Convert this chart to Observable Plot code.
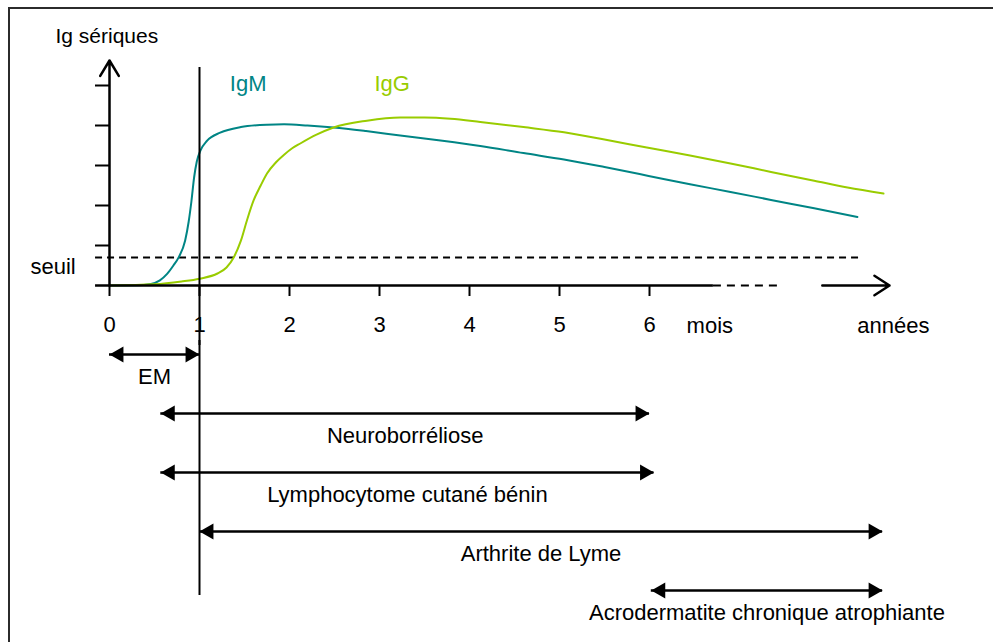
<!DOCTYPE html>
<html>
<head>
<meta charset="utf-8">
<script src="https://cdn.jsdelivr.net/npm/d3@7"></script>
<script src="https://cdn.jsdelivr.net/npm/@observablehq/plot@0.6"></script>
<style>
  html, body { margin: 0; padding: 0; background: #fff; }
  #wrap { position: relative; width: 993px; height: 642px; overflow: hidden; background: #fff; }
  #wrap svg { display: block; }
  #frame { position: absolute; left: 8px; top: 7px; width: 1100px; height: 800px;
           border-left: 2px solid #2b2b2b; border-top: 2px solid #2b2b2b; pointer-events: none; }
</style>
</head>
<body>
<div id="wrap"><div id="frame"></div></div>
<script>
// ---------- data ----------
const xTicks = [0, 1, 2, 3, 4, 5, 6];          // mois
const yTicks = [1, 2, 3, 4, 5];
const seuil = 0.7;                              // seuil de positivité

const igmX = [0, 0.3, 0.46, 0.56, 0.64, 0.71, 0.77, 0.84, 0.88, 0.91, 0.94, 0.97, 1.01, 1.085, 1.23, 1.46, 1.75, 1.94, 2.2, 2.49, 2.85, 3.23, 3.7, 4.12, 4.6, 5.05, 5.5, 5.99, 6.45, 6.9, 7.35, 7.83, 8.31];
const igmY = [0, 0.005, 0.04, 0.13, 0.29, 0.5, 0.71, 1.12, 1.6, 2.1, 2.7, 3.1, 3.37, 3.62, 3.82, 3.96, 4.02, 4.03, 4.0, 3.95, 3.86, 3.75, 3.62, 3.49, 3.31, 3.15, 2.96, 2.74, 2.53, 2.34, 2.14, 1.93, 1.71];

const iggX = [0, 0.5, 0.8, 1.0, 1.2, 1.3, 1.38, 1.46, 1.53, 1.6, 1.68, 1.75, 1.85, 1.94, 2.03, 2.12, 2.3, 2.49, 2.86, 3.23, 3.5, 3.79, 4.12, 4.6, 5.05, 5.5, 5.97, 6.45, 6.9, 7.35, 7.83, 8.2, 8.6];
const iggY = [0, 0.03, 0.1, 0.17, 0.3, 0.45, 0.7, 1.12, 1.65, 2.12, 2.5, 2.8, 3.08, 3.27, 3.43, 3.55, 3.77, 3.95, 4.12, 4.2, 4.2, 4.17, 4.09, 3.96, 3.83, 3.65, 3.45, 3.25, 3.05, 2.84, 2.62, 2.45, 2.3];

const rangeNames = ["EM", "Neuroborréliose", "Lymphocytome cutané bénin", "Arthrite de Lyme", "Acrodermatite chronique atrophiante"];
const rangeStart = [0, 0.57, 0.57, 1.0, 6.02];
const rangeEnd   = [1.0, 6.0, 6.05, 8.59, 8.59];

// ---------- styling ----------
const FONT = '"Liberation Sans", Arial, Helvetica, sans-serif';
const IGM = "#008585";
const IGG = "#99cc00";
const common = {
  width: 993, marginLeft: 109, marginRight: 74,
  style: {fontFamily: FONT, fontSize: "22px", background: "transparent", color: "#000", overflow: "visible"}
};

const igm = igmX.map((x, i) => ({x, y: igmY[i]}));
const igg = iggX.map((x, i) => ({x, y: iggY[i]}));
const ranges = rangeNames.map((name, i) => ({name, start: rangeStart[i], end: rangeEnd[i], mid: (rangeStart[i] + rangeEnd[i]) / 2}));

const topPlot = Plot.plot({
  ...common,
  height: 340, marginTop: 85, marginBottom: 55,
  x: {domain: [0, 9]},
  y: {domain: [0, 5]},
  marks: [
    // threshold
    Plot.ruleY([seuil], {x1: -0.155, x2: 8.34, stroke: "#000", strokeWidth: 1.8, strokeDasharray: "7,5"}),
    // curves
    Plot.line(igm, {x: "x", y: "y", stroke: IGM, strokeWidth: 2, curve: "monotone-x"}),
    Plot.line(igg, {x: "x", y: "y", stroke: IGG, strokeWidth: 2, curve: "monotone-x"}),
    // vertical line at 1 mois
    Plot.ruleX([1], {y1: 5.45, y2: -1.5, stroke: "#000", strokeWidth: 2}),
    // y axis with arrow
    Plot.arrow([0], {x1: 0, y1: 0, x2: 0, y2: 5.625, stroke: "#000", strokeWidth: 2.5, headLength: 10.8, headAngle: 62}),
    Plot.axisY({ticks: yTicks, tickSize: 14, tickFormat: () => "", strokeWidth: 2, label: null}),
    // x axis: solid, dashed, arrow
    Plot.ruleY([0], {x1: -0.155, x2: 6.71, stroke: "#000", strokeWidth: 2.5}),
    Plot.ruleY([0], {x1: 6.71, x2: 7.48, stroke: "#000", strokeWidth: 2, strokeDasharray: "8,6"}),
    Plot.arrow([0], {x1: 7.92, y1: 0, x2: 8.667, y2: 0, stroke: "#000", strokeWidth: 2.5, headLength: 10.8, headAngle: 66}),
    Plot.axisX({ticks: xTicks, tickSize: 11, tickPadding: 20, strokeWidth: 2, fontSize: 22, label: null}),
    // texts
    Plot.text(["mois"], {x: 6.67, y: -1.0, text: d => d, fontSize: 22}),
    Plot.text(["années"], {x: 8.71, y: -1.0, text: d => d, fontSize: 22}),
    Plot.text(["seuil"], {x: -0.878, y: 0.475, text: d => d, textAnchor: "start", fontSize: 22}),
    Plot.text(["Ig sériques"], {x: -0.6, y: 6.22, text: d => d, textAnchor: "start", fontSize: 21}),
    Plot.text(["IgM"], {x: 1.337, y: 5.05, text: d => d, textAnchor: "start", fontSize: 22, fill: IGM}),
    Plot.text(["IgG"], {x: 2.944, y: 5.05, text: d => d, textAnchor: "start", fontSize: 22, fill: IGG})
  ]
});

const bottomPlot = Plot.plot({
  ...common,
  height: 302, marginTop: 0, marginBottom: 47,
  x: {domain: [0, 9], axis: null},
  y: {type: "point", domain: rangeNames, range: [12, 251], padding: 0, axis: null},
  marks: [
    Plot.ruleX([1], {stroke: "#000", strokeWidth: 2}),
    Plot.ruleY(ranges, {y: "name", x1: "start", x2: "end", stroke: "#000", strokeWidth: 2.5}),
    Plot.dot(ranges, {x: "end", y: "name", symbol: "triangle", r: 6, rotate: 90, dx: -9.3, fill: "#000", stroke: null}),
    Plot.dot(ranges, {x: "start", y: "name", symbol: "triangle", r: 6, rotate: -90, dx: 9.3, fill: "#000", stroke: null}),
    Plot.text(ranges, {x: "mid", y: "name", text: "name", dy: 22, fontSize: 22})
  ]
});

const wrap = document.getElementById("wrap");
wrap.insertBefore(bottomPlot, wrap.firstChild);
wrap.insertBefore(topPlot, wrap.firstChild);
</script>
</body>
</html>
